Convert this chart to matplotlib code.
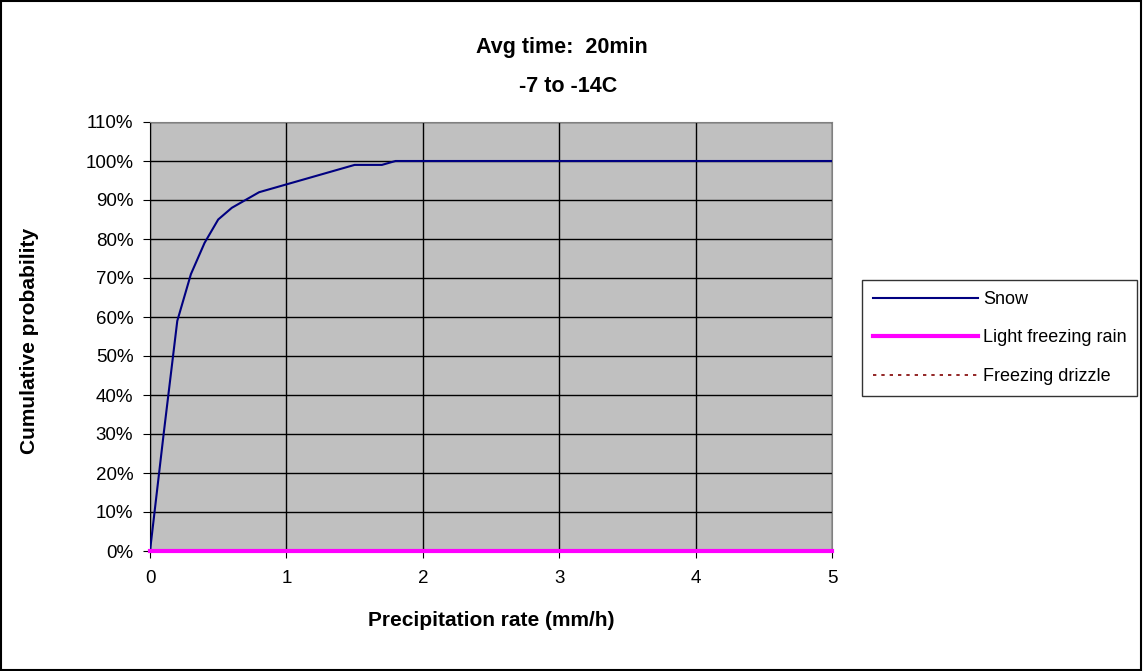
import matplotlib.pyplot as plt
from matplotlib.patches import Rectangle
from matplotlib.ticker import PercentFormatter

plt.rcParams['font.family'] = ['Liberation Sans', 'DejaVu Sans']

# data
rate = [0, 0.1, 0.2, 0.3, 0.4, 0.5, 0.6, 0.8, 1.0, 1.2, 1.5, 1.7, 1.8, 2, 3, 4, 5]
snow = [0, 0.30, 0.59, 0.71, 0.79, 0.85, 0.88, 0.92, 0.94, 0.96, 0.99, 0.99, 1.0, 1.0, 1.0, 1.0, 1.0]
rain_x = [0, 5]
light_freezing_rain = [0, 0]
freezing_drizzle = [0, 0]

W, H = 1143, 671
fig = plt.figure(figsize=(W / 100, H / 100), dpi=100)
ax = fig.add_axes([150 / W, 1 - 551 / H, 682 / W, 429 / H])
ax.set_facecolor('#C0C0C0')

ax.plot(rate, snow, color='#000080', lw=1.5, label='Snow', zorder=3)
ax.plot(rain_x, light_freezing_rain, color='#FF00FF', lw=3, label='Light freezing rain',
        clip_on=False, zorder=5)
ax.plot(rain_x, freezing_drizzle, color='#800000', lw=1.2, ls=(0, (2, 3)), label='Freezing drizzle',
        clip_on=False, zorder=4)

ax.set_xlim(0, 5)
ax.set_ylim(0, 1.1)
ax.set_xticks(range(6))
ax.set_yticks([i / 10 for i in range(12)])
ax.yaxis.set_major_formatter(PercentFormatter(1.0, decimals=0))
ax.grid(True, color='black', lw=1)
ax.set_axisbelow(True)
ax.tick_params(direction='out', length=5, labelsize=13.5, color='black')
ax.tick_params(axis='x', pad=9)
ax.tick_params(axis='y', pad=7)
for s in ['top', 'right']:
    ax.spines[s].set_color('#808080')

fig.text(491 / W, 1 - 621 / H, 'Precipitation rate (mm/h)', ha='center', va='center',
         fontsize=15, fontweight='bold')
fig.text(30 / W, 1 - 341 / H, 'Cumulative probability', ha='center', va='center',
         rotation=90, fontsize=15, fontweight='bold')

fig.text(562 / W, 1 - 48 / H, 'Avg time:  20min', ha='center', va='center', fontsize=15.5, fontweight='bold')
fig.text(568 / W, 1 - 87 / H, '-7 to -14C', ha='center', va='center', fontsize=15.5, fontweight='bold')

leg = fig.legend(loc='upper left', bbox_to_anchor=(862 / W, 1 - 280 / H), fontsize=13,
                 frameon=True, fancybox=False, edgecolor='black', handlelength=5.8,
                 borderaxespad=0, labelspacing=1.2, handletextpad=0.3, borderpad=0.6)
leg.get_frame().set_linewidth(1)

fig.patches.append(Rectangle((0.001, 0.001), 0.997, 0.997, transform=fig.transFigure,
                             fill=False, edgecolor='black', lw=1.5))

fig.savefig('out.png', dpi=100)
